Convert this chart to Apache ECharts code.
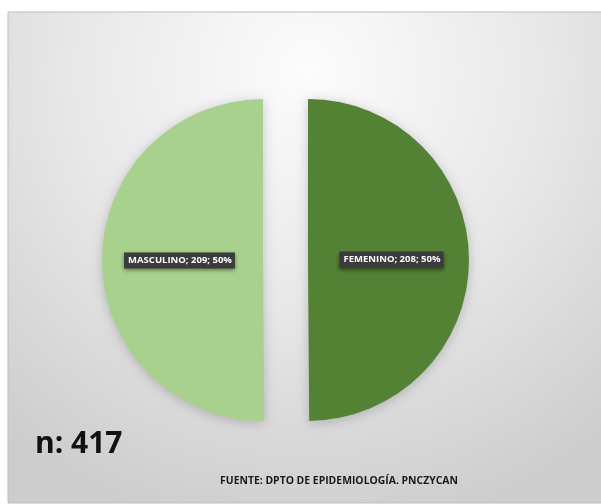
<!DOCTYPE html>
<html>
<head>
<meta charset="utf-8">
<script src="https://cdn.jsdelivr.net/npm/echarts@6/dist/echarts.min.js"></script>
<style>
  html, body { margin: 0; padding: 0; background: #ffffff; }
  #chart { width: 601px; height: 504px; }
</style>
</head>
<body>
<div id="chart"></div>
<script>
// Distribución por sexo
const categories = ['FEMENINO', 'MASCULINO'];
const counts = [208, 209];
const sliceColors = ['#548235', '#A9D18E'];
const totalLabel = 'n: 417';
const sourceLabel = 'FUENTE: DPTO DE EPIDEMIOLOGÍA. PNCZYCAN';

const chart = echarts.init(document.getElementById('chart'), null, { renderer: 'canvas' });

const pieData = categories.map((name, i) => ({
  name: name,
  value: counts[i],
  selected: true,
  itemStyle: { color: sliceColors[i] }
}));

chart.setOption({
  animation: false,
  backgroundColor: '#ffffff',
  graphic: [
    {
      type: 'rect',
      z: -10,
      shape: { x: 8, y: 12, width: 600, height: 491 },
      style: {
        fill: new echarts.graphic.RadialGradient(0.5, 0.12, 0.95, [
          { offset: 0, color: '#fcfcfc' },
          { offset: 0.5, color: '#e8e8e8' },
          { offset: 1, color: '#cdcdcd' }
        ]),
        stroke: '#bdbdbd',
        lineWidth: 1
      }
    },
    {
      type: 'text',
      left: 35,
      top: 429,
      style: {
        text: totalLabel,
        font: 'bold 30px "Open Sans", sans-serif',
        fill: '#111111'
      }
    },
    {
      type: 'text',
      x: 339,
      y: 481,
      style: {
        text: sourceLabel,
        font: 'bold 10.4px "Open Sans", sans-serif',
        fill: '#1a1a1a',
        align: 'center',
        verticalAlign: 'middle'
      }
    }
  ],
  series: [
    {
      type: 'pie',
      center: [285.5, 260],
      radius: 161,
      startAngle: 90,
      clockwise: true,
      selectedMode: 'multiple',
      selectedOffset: 22.5,
      data: pieData,
      itemStyle: {
        shadowBlur: 12,
        shadowColor: 'rgba(0,0,0,0.2)',
        shadowOffsetY: 2
      },
      emphasis: { disabled: true },
      label: {
        show: true,
        position: 'inside',
        formatter: p => p.name + '; ' + p.value + '; ' + Math.round(p.percent) + '%',
        color: '#ffffff',
        fontFamily: '"Open Sans", sans-serif',
        fontWeight: 'bold',
        fontSize: 9.5,
        lineHeight: 10,
        backgroundColor: '#3b3b3b',
        padding: [3, 3, 3, 4],
        shadowBlur: 4,
        shadowColor: 'rgba(0,0,0,0.45)',
        shadowOffsetY: 2
      },
      labelLine: { show: false }
    }
  ]
});
</script>
</body>
</html>
